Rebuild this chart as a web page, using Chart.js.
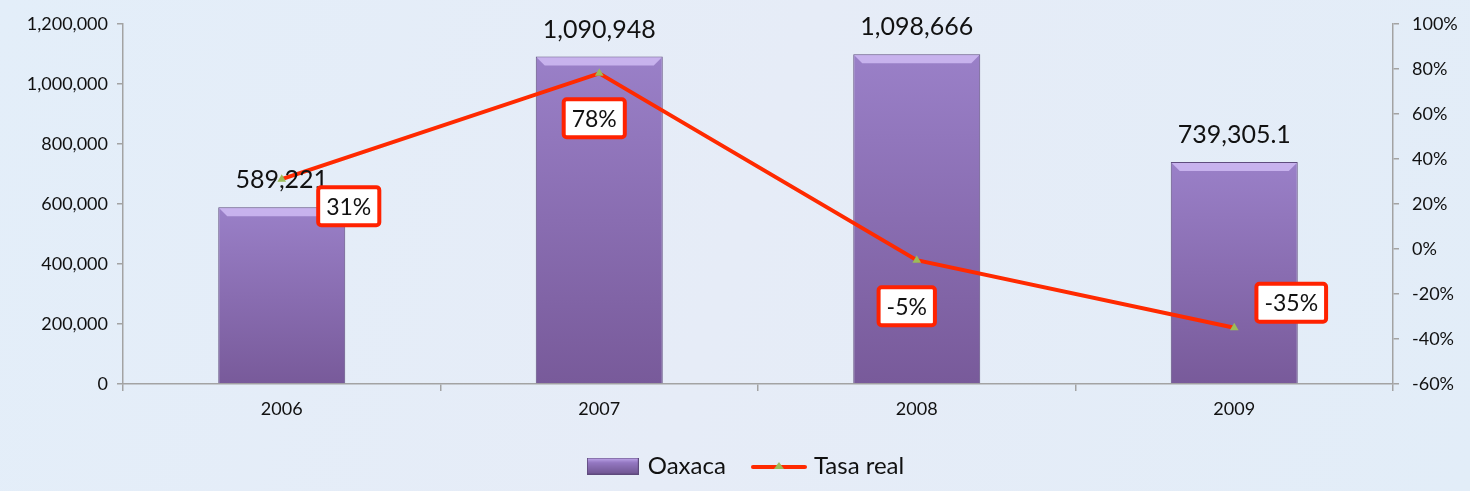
<!DOCTYPE html>
<html>
<head>
<meta charset="utf-8">
<script src="https://cdn.jsdelivr.net/npm/chart.js@4.4.1/dist/chart.umd.min.js"></script>
<style>
  html, body { margin: 0; padding: 0; background: #e4eef8; }
  #wrap { width: 1470px; height: 491px; }
</style>
</head>
<body>
<div id="wrap"><canvas id="chart" width="1470" height="491"></canvas></div>
<script>
// datos
const years = ['2006', '2007', '2008', '2009'];
const oaxaca = [589221, 1090948, 1098666, 739305.1];
const tasaReal = [31, 78, -5, -35];
const leftTicks = [0, 200000, 400000, 600000, 800000, 1000000, 1200000];
const rightTicks = [-60, -40, -20, 0, 20, 40, 60, 80, 100];

const FONT = 'Lato, "Open Sans", sans-serif';

// iconos de la leyenda
function barIcon() {
    const c = document.createElement('canvas');
    c.width = 52; c.height = 17;
    const g = c.getContext('2d');
    const gr = g.createLinearGradient(0, 0, 0, 17);
    gr.addColorStop(0, '#c6aef0');
    gr.addColorStop(0.3, '#9478c2');
    gr.addColorStop(1, '#6f5490');
    g.fillStyle = gr;
    g.fillRect(0, 0, 52, 17);
    g.strokeStyle = '#5e4a7c';
    g.lineWidth = 1;
    g.strokeRect(0.5, 0.5, 51, 16);
    return c;
}
function lineIcon() {
    const c = document.createElement('canvas');
    c.width = 56; c.height = 10;
    const g = c.getContext('2d');
    g.strokeStyle = '#ff2a00';
    g.lineWidth = 4;
    g.lineCap = 'round';
    g.beginPath(); g.moveTo(2, 6); g.lineTo(54, 6); g.stroke();
    g.fillStyle = '#9bbb59';
    g.beginPath(); g.moveTo(28, 1); g.lineTo(33, 8); g.lineTo(23, 8); g.closePath(); g.fill();
    return c;
}

function barGradient(ctx) {
    const chart = ctx.chart;
    if (!chart.chartArea || ctx.parsed === undefined) return '#8a6db3';
    const y = chart.scales.y;
    const top = y.getPixelForValue(ctx.parsed.y);
    const bot = y.getPixelForValue(0);
    const gr = chart.ctx.createLinearGradient(0, top, 0, bot);
    gr.addColorStop(0, '#9a80c8');
    gr.addColorStop(1, '#785a9a');
    return gr;
}

const bgPlugin = {
    id: 'fondo',
    afterLayout(chart) {
        // la leyenda del original queda un poco a la derecha
        chart.legend.left += 12;
        chart.legend.right += 12;
    },
    beforeDraw(chart) {
        const c = chart.ctx;
        c.save();
        const gr = c.createLinearGradient(0, 0, chart.width, chart.height);
        gr.addColorStop(0, '#e3eef9');
        gr.addColorStop(0.5, '#e6ecf7');
        gr.addColorStop(1, '#e2edf8');
        c.fillStyle = gr;
        c.fillRect(0, 0, chart.width, chart.height);
        c.restore();
    }
};

const labelPlugin = {
    id: 'etiquetas',
    afterDatasetsDraw(chart, args, opts) {
        const c = chart.ctx;
        c.save();
        // bisel superior de las barras
        const barMeta = chart.getDatasetMeta(0);
        barMeta.data.forEach(bar => {
            const {x, y, width} = bar.getProps(['x', 'y', 'width'], true);
            const l = x - width / 2, r = x + width / 2;
            c.fillStyle = 'rgba(215,195,250,0.75)';
            c.beginPath();
            c.moveTo(l + 1, y + 1); c.lineTo(r - 1, y + 1); c.lineTo(r - 9, y + 9); c.lineTo(l + 9, y + 9);
            c.closePath(); c.fill();
        });
        // valores de las barras
        c.font = '25px ' + FONT;
        c.fillStyle = '#111';
        c.textAlign = 'center';
        c.textBaseline = 'middle';
        barMeta.data.forEach((bar, i) => {
            const txt = oaxaca[i].toLocaleString('en-US', {maximumFractionDigits: 1});
            c.fillText(txt, bar.x, bar.y - 27);
        });
        c.restore();
    },
    afterDraw(chart, args, opts) {
        const c = chart.ctx;
        c.save();
        const lineMeta = chart.getDatasetMeta(1);
        c.font = '23px ' + FONT;
        c.textAlign = 'center';
        c.textBaseline = 'middle';
        lineMeta.data.forEach((pt, i) => {
            const txt = tasaReal[i] + '%';
            const [dx, dy] = opts.offsets[i];
            const cx = pt.x + dx, cy = pt.y + dy;
            const w = c.measureText(txt).width + 16, h = 38;
            c.fillStyle = '#fff';
            c.strokeStyle = '#ff2200';
            c.lineWidth = 4;
            c.beginPath();
            c.roundRect(cx - w / 2, cy - h / 2, w, h, 3);
            c.fill();
            c.stroke();
            c.fillStyle = '#111';
            c.fillText(txt, cx, cy + 1);
        });
        c.restore();
    }
};

const axisColor = '#a3a3a3';

new Chart(document.getElementById('chart'), {
    type: 'bar',
    data: {
        labels: years,
        datasets: [{
            label: 'Oaxaca',
            data: oaxaca,
            backgroundColor: barGradient,
            borderColor: '#5f4c7e',
            borderWidth: 1,
            barPercentage: 0.4,
            categoryPercentage: 1,
            yAxisID: 'y',
            order: 2
        }, {
            type: 'line',
            label: 'Tasa real',
            data: tasaReal,
            borderColor: '#ff2a00',
            borderWidth: 4,
            pointStyle: 'triangle',
            pointRadius: 5,
            pointBackgroundColor: '#9bbb59',
            pointBorderColor: '#9bbb59',
            pointBorderWidth: 0,
            tension: 0,
            yAxisID: 'y1',
            order: 1
        }]
    },
    options: {
        responsive: false,
        animation: false,
        layout: { padding: { top: 21, left: 0, right: 0, bottom: 3 } },
        plugins: {
            tooltip: { enabled: false },
            legend: {
                position: 'bottom',
                labels: {
                    usePointStyle: true,
                    pointStyleWidth: 46,
                    padding: 30,
                    color: '#111',
                    font: { family: FONT, size: 24 },
                    generateLabels(chart) {
                        return [
                            { text: 'Oaxaca', pointStyle: barIcon(), datasetIndex: 0, fillStyle: '#8a6db3', strokeStyle: '#8a6db3', lineWidth: 0, fontColor: '#111' },
                            { text: 'Tasa real', pointStyle: lineIcon(), datasetIndex: 1, fillStyle: '#ff2a00', strokeStyle: '#ff2a00', lineWidth: 0, fontColor: '#111' }
                        ];
                    }
                }
            },
            etiquetas: {
                offsets: [[67, 27], [-5, 45], [-10, 46], [57, -25]]
            }
        },
        scales: {
            x: {
                grid: { display: true, drawOnChartArea: false, offset: true, color: axisColor, tickLength: 7, lineWidth: 1.5 },
                border: { color: axisColor, width: 1.5 },
                ticks: { color: '#111', font: { family: FONT, size: 18 }, padding: 7 },
                afterFit(scale) { scale.height = 40; }
            },
            y: {
                position: 'left',
                min: 0, max: 1200000,
                afterBuildTicks(scale) { scale.ticks = leftTicks.map(v => ({ value: v })); },
                grid: { drawOnChartArea: false, color: axisColor, tickLength: 6, lineWidth: 1.5 },
                border: { color: axisColor, width: 1.5 },
                ticks: {
                    color: '#111', font: { family: FONT, size: 18 }, padding: 9,
                    callback: v => v.toLocaleString('en-US')
                },
                afterFit(scale) { scale.width = 123; }
            },
            y1: {
                position: 'right',
                min: -60, max: 100,
                afterBuildTicks(scale) { scale.ticks = rightTicks.map(v => ({ value: v })); },
                grid: { drawOnChartArea: false, color: axisColor, tickLength: 6, lineWidth: 1.5 },
                border: { color: axisColor, width: 1.5 },
                ticks: {
                    color: '#111', font: { family: FONT, size: 18 }, padding: 13,
                    callback: v => v + '%'
                },
                afterFit(scale) { scale.width = 77; }
            }
        }
    },
    plugins: [bgPlugin, labelPlugin]
});
</script>
</body>
</html>
